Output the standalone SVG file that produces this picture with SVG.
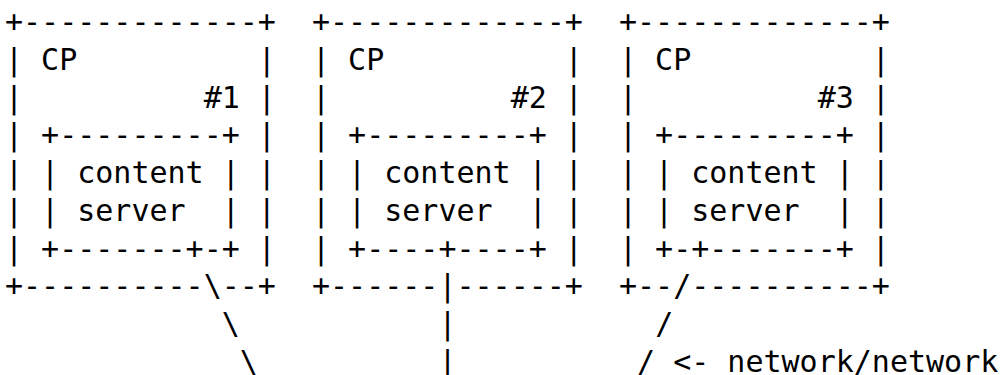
<svg xmlns="http://www.w3.org/2000/svg" width="1002" height="375" viewBox="0 0 1002 375">
<style>
text { font-family: "DejaVu Sans Mono", "Liberation Mono", monospace; font-size: 30px; fill: #000; white-space: pre; }
</style>
<rect width="1002" height="375" fill="#fff"/>
<g id="cp1">
<text xml:space="preserve" x="5" y="32.3">+-------------+</text>
<text xml:space="preserve" x="5" y="70">| CP          |</text>
<text xml:space="preserve" x="5" y="107.7">|          #1 |</text>
<text xml:space="preserve" x="5" y="145.4">| +---------+ |</text>
<text xml:space="preserve" x="5" y="183.1">| | content | |</text>
<text xml:space="preserve" x="5" y="220.8">| | server  | |</text>
<text xml:space="preserve" x="5" y="258.5">| +-------+-+ |</text>
<text xml:space="preserve" x="5" y="296.2">+----------\--+</text>
</g>
<g id="cp2">
<text xml:space="preserve" x="312" y="32.3">+-------------+</text>
<text xml:space="preserve" x="312" y="70">| CP          |</text>
<text xml:space="preserve" x="312" y="107.7">|          #2 |</text>
<text xml:space="preserve" x="312" y="145.4">| +---------+ |</text>
<text xml:space="preserve" x="312" y="183.1">| | content | |</text>
<text xml:space="preserve" x="312" y="220.8">| | server  | |</text>
<text xml:space="preserve" x="312" y="258.5">| +----+----+ |</text>
<text xml:space="preserve" x="312" y="296.2">+------|------+</text>
</g>
<g id="cp3">
<text xml:space="preserve" x="619" y="32.3">+-------------+</text>
<text xml:space="preserve" x="619" y="70">| CP          |</text>
<text xml:space="preserve" x="619" y="107.7">|          #3 |</text>
<text xml:space="preserve" x="619" y="145.4">| +---------+ |</text>
<text xml:space="preserve" x="619" y="183.1">| | content | |</text>
<text xml:space="preserve" x="619" y="220.8">| | server  | |</text>
<text xml:space="preserve" x="619" y="258.5">| +-+-------+ |</text>
<text xml:space="preserve" x="619" y="296.2">+--/----------+</text>
</g>
<g id="connectors">
<text xml:space="preserve" x="221.7" y="333.9">\</text>
<text xml:space="preserve" x="239.8" y="371.6">\</text>
<text xml:space="preserve" x="438.4" y="333.9">|</text>
<text xml:space="preserve" x="438.4" y="371.6">|</text>
<text xml:space="preserve" x="655.2" y="333.9">/</text>
<text xml:space="preserve" x="637.1" y="371.6">/</text>
</g>
<g id="label">
<text xml:space="preserve" x="673.2" y="371.6">&lt;- network/network</text>
</g>
</svg>
